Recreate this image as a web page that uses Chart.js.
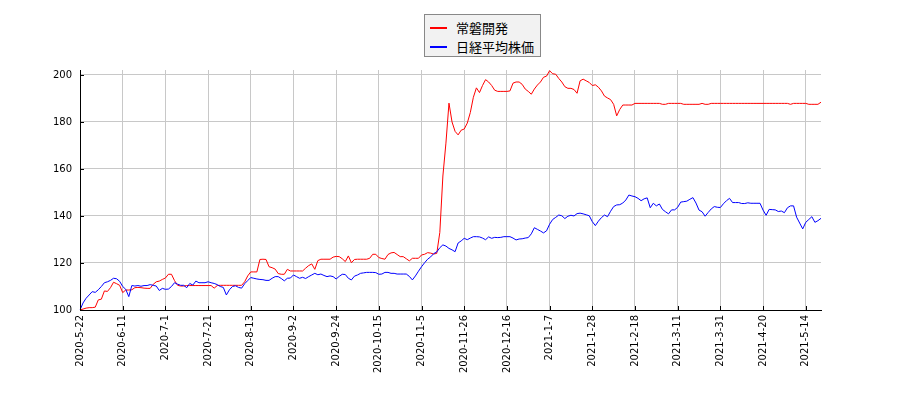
<!DOCTYPE html>
<html>
<head>
<meta charset="utf-8">
<script src="https://cdn.jsdelivr.net/npm/chart.js@4"></script>
<style>
  body { margin: 0; background: #fff; }
  #wrap { position: relative; width: 900px; height: 400px; }
  #legend { position: absolute; left: 424px; top: 14px; width: 115px; height: 41px;
    border: 1px solid #888; background: #f2f2f2; font-family: 'Noto Sans CJK JP', sans-serif; font-size: 13px; color: #000; }
  #legend .row { position: absolute; left: 0; height: 18px; line-height: 18px; }
  #legend .ln { position: absolute; left: 5px; top: 8px; width: 17px; height: 2px; }
  #legend .tx { position: absolute; left: 31px; top: 0; white-space: nowrap; }
</style>
</head>
<body>
<div id="wrap">
  <canvas id="chart" width="900" height="400"></canvas>
  <div id="legend">
    <div class="row" style="top:4px"><span class="ln" style="background:#ff0000"></span><span class="tx">常磐開発</span></div>
    <div class="row" style="top:23px"><span class="ln" style="background:#0000ff"></span><span class="tx">日経平均株価</span></div>
  </div>
</div>
<script>
// 期間・休場日 (営業日ベースの横軸)
const START_DATE = '2020-05-22';
const DAY_COUNT = 244;
const HOLIDAYS = ['2020-07-23','2020-07-24','2020-08-10','2020-09-21','2020-09-22','2020-10-01',
  '2020-11-03','2020-11-23','2020-12-31','2021-01-01','2021-01-11','2021-02-11','2021-02-23',
  '2021-04-29','2021-05-03','2021-05-04','2021-05-05'];
const TICK_STEP = 14;
const Y_TICKS = [100, 120, 140, 160, 180, 200];

// 常磐開発 (指数化, 初日=100)
const tokiwa = [
  100, 100.4, 100.8, 101, 101, 101.2, 104.3, 104.6, 108.1, 107.9,
  109.5, 111.8, 111.2, 110.5, 107.4, 108.5, 108.5, 108.6, 109.5, 109.6,
  109.5, 109.3, 109.2, 109.2, 110.9, 112, 112.3, 113, 113.6, 115.2,
  115.2, 112.5, 110.5, 110.2, 110.2, 110.4, 110.4, 110.4, 110.4, 110.4,
  110.4, 110.4, 110.4, 110.4, 109.3, 110.4, 110.5, 110.5, 110.5, 110.5,
  110.5, 110.5, 110.5, 110.5, 112, 114.5, 116.2, 116.2, 116.2, 121.5,
  121.6, 121.5, 118.4, 118, 117.4, 115.5, 115.2, 115.2, 117.3, 116.6,
  116.6, 116.6, 116.6, 116.6, 117.8, 118.9, 119.6, 117.3, 121, 121.6,
  121.6, 121.6, 121.6, 122.5, 122.8, 122.7, 121.8, 120.6, 123, 120.1,
  121.5, 121.6, 121.6, 121.6, 121.6, 122, 123.7, 123.7, 122.3, 121.9,
  121.6, 123.6, 124.3, 124.5, 123.6, 122.7, 122.7, 121.8, 120.9, 122,
  122, 122, 123.4, 123.7, 124.4, 124.2, 123.8, 124.1, 133, 157,
  171, 188, 180, 176, 174.5, 176.5, 177, 179.5, 184, 190.5,
  194.5, 192.5, 195.5, 198, 197, 195.5, 193.5, 193, 193, 193,
  193, 193.2, 196.5, 197, 197, 196, 194, 193, 191.8, 194,
  195.7, 197, 199, 199.5, 201.8, 200.5, 200.3, 198.5, 197, 195,
  194.3, 194.3, 193.8, 192.2, 197.5, 198.2, 197.5, 196.8, 195.5, 195.8,
  194.8, 193.2, 191, 190.2, 189.5, 187.5, 182.6, 185.3, 187.2, 187.2,
  187.2, 187.2, 187.9, 187.9, 187.9, 187.9, 187.9, 187.9, 187.9, 187.9,
  187.9, 187.5, 187.5, 187.9, 187.9, 187.9, 187.9, 187.9, 187.5, 187.5,
  187.5, 187.5, 187.5, 187.5, 187.9, 187.5, 187.5, 187.9, 187.9, 187.9,
  187.9, 187.9, 187.9, 187.9, 187.9, 187.9, 187.9, 187.9, 187.9, 187.9,
  187.9, 187.9, 187.9, 187.9, 187.9, 187.9, 187.9, 187.9, 187.9, 187.9,
  187.9, 187.9, 187.9, 187.5, 187.9, 187.9, 187.9, 187.9, 187.9, 187.5,
  187.5, 187.5, 187.5, 188.4
];

// 日経平均株価 (指数化, 初日=100)
const nikkei = [
  100, 103, 105, 106.4, 107.8, 107.5, 108.6, 110, 111.6, 112,
  112.6, 113.5, 113.3, 112.2, 110, 108.8, 105.7, 110.4, 110.2, 110.4,
  110.1, 110.4, 110.4, 110.8, 110.5, 110.2, 108.3, 109.2, 108.8, 108.9,
  110, 111.6, 111, 110.5, 110.5, 109.5, 111.3, 110.6, 112.3, 111.6,
  111.6, 111.6, 112, 111.6, 111.3, 110.8, 110, 109.6, 106.4, 108.6,
  110, 110.3, 109.6, 109.3, 111.2, 112.5, 113.8, 113.5, 113.2, 113,
  112.9, 112.6, 112.6, 113.5, 114.2, 114.2, 113.4, 112.4, 113.5, 113.6,
  114.9, 114.2, 113.5, 113.9, 113.4, 114.2, 114.9, 115.6, 115, 115.3,
  114.7, 114.2, 114.5, 114.2, 113.2, 114.3, 115.2, 115.1, 113.5, 112.8,
  114.4, 114.9, 115.6, 115.8, 116, 116, 116, 115.9, 115.2, 115.3,
  116, 116, 115.6, 115.6, 115.3, 115.3, 115.3, 115.3, 114.3, 112.8,
  114.5, 116.5, 118.4, 120.1, 121.6, 122.6, 124, 124.7, 126.5, 127.7,
  127.2, 126.2, 125.6, 124.8, 128.5, 129.4, 130.5, 129.9, 130.6, 131.2,
  131.2, 131.1, 130.6, 129.9, 131.1, 130.5, 130.9, 130.8, 130.9, 131.2,
  131.2, 131.2, 130.6, 129.8, 130.2, 130.3, 130.6, 130.8, 132.4, 135,
  134.3, 133.6, 132.8, 133.7, 136.5, 138.5, 139.4, 140.4, 140.1, 138.9,
  139.9, 140.3, 140, 141, 141.2, 140.9, 140.5, 140.1, 137.6, 135.9,
  137.8, 139.3, 140.4, 139.7, 142, 144, 144.7, 144.8, 145.5, 146.8,
  148.9, 148.5, 148.2, 147.5, 146.5, 147.3, 147.7, 143.5, 145.4, 144.3,
  145.1, 142.8, 141.8, 140.9, 142.6, 142.6, 143.7, 145.9, 146.1, 146.3,
  147.1, 147.8, 145.5, 142.5, 141.8, 139.9, 141.5, 143, 144, 143.7,
  143.6, 145.2, 146.5, 147.5, 145.7, 145.7, 145.7, 145.3, 145.3, 145.6,
  145.4, 145.4, 145.4, 145.4, 142.5, 140.3, 142.8, 142.7, 142.6, 141.9,
  142.1, 141.4, 143.5, 144.3, 144.3, 139.5, 137, 134.5, 137.3, 138.5,
  139.7, 137.3, 138, 139
];

// 営業日の日付ラベルを作成 (土日・休場日を除く)
const tradingDays = () => {
  const out = [];
  const d = new Date(START_DATE + 'T00:00:00Z');
  while (out.length < DAY_COUNT) {
    const iso = d.toISOString().slice(0, 10);
    const wd = d.getUTCDay();
    if (wd !== 0 && wd !== 6 && !HOLIDAYS.includes(iso)) {
      out.push(d.getUTCFullYear() + '-' + (d.getUTCMonth() + 1) + '-' + d.getUTCDate());
    }
    d.setUTCDate(d.getUTCDate() + 1);
  }
  return out;
};
const labels = tradingDays();

// 内向きの目盛り線
const innerTicks = {
  id: 'innerTicks',
  afterDraw(chart) {
    const { ctx, chartArea: a, scales } = chart;
    ctx.save();
    ctx.strokeStyle = '#000';
    ctx.lineWidth = 1;
    ctx.beginPath();
    labels.forEach((l, i) => {
      if (i % TICK_STEP !== 0) return;
      const x = Math.round(scales.x.getPixelForValue(i)) + 0.5;
      ctx.moveTo(x, a.bottom); ctx.lineTo(x, a.bottom - 4);
    });
    Y_TICKS.forEach(v => {
      const y = Math.round(scales.y.getPixelForValue(v)) + 0.5;
      ctx.moveTo(a.left, y); ctx.lineTo(a.left + 4, y);
    });
    ctx.stroke();
    ctx.restore();
  }
};

const tickFont = { family: "'DejaVu Sans', sans-serif", size: 10 };

new Chart(document.getElementById('chart'), {
  type: 'line',
  data: {
    labels: labels,
    datasets: [
      { label: '常磐開発', data: tokiwa, borderColor: '#ff0000', borderWidth: 1, pointRadius: 0, tension: 0, order: 1 },
      { label: '日経平均株価', data: nikkei, borderColor: '#0000ff', borderWidth: 1, pointRadius: 0, tension: 0, order: 0 }
    ]
  },
  options: {
    responsive: false,
    animation: false,
    layout: { padding: { top: 70, right: 79, left: 0, bottom: 0 } },
    plugins: { legend: { display: false }, tooltip: { enabled: false } },
    scales: {
      x: {
        afterFit: s => { s.height = 90; },
        border: { color: '#000', width: 1 },
        grid: { drawTicks: false, color: '#c8c8c8' },
        ticks: {
          autoSkip: false, minRotation: 90, maxRotation: 90, padding: 5,
          color: '#000', font: tickFont,
          callback: (v, i) => (i % TICK_STEP === 0 ? labels[i] : null)
        }
      },
      y: {
        min: 100, max: 202.1,
        afterFit: s => { s.width = 80; },
        border: { color: '#000', width: 1 },
        grid: { drawTicks: false, color: '#c8c8c8' },
        ticks: { stepSize: 20, includeBounds: false, padding: 8, color: '#000', font: tickFont }
      }
    }
  },
  plugins: [innerTicks]
});
</script>
</body>
</html>
